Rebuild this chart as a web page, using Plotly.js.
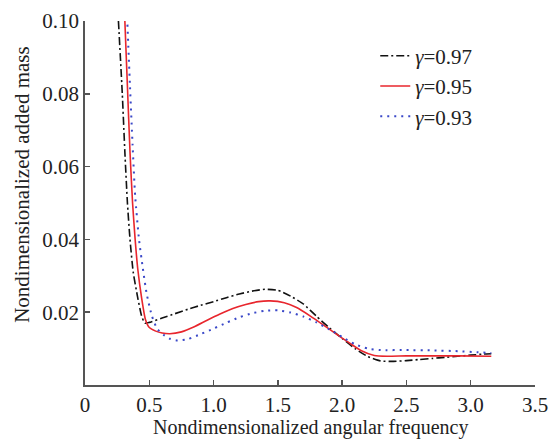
<!DOCTYPE html>
<html>
<head>
<meta charset="utf-8">
<script src="https://cdn.plot.ly/plotly-3.0.1.min.js"></script>
<style>
html,body{margin:0;padding:0;background:#fff;}
</style>
</head>
<body>
<div id="chart"></div>
<script>
// gamma = 0.97
const x97 = [0.26,0.29,0.31,0.33,0.35,0.375,0.41,0.44,0.465,0.50,0.6,0.7,0.8,0.9,1.0,1.1,1.2,1.3,1.4,1.5,1.6,1.7,1.8,1.9,2.0,2.1,2.2,2.3,2.4,2.5,2.6,2.7,2.8,2.9,3.0,3.1,3.16];
const y97 = [0.100,0.080,0.064,0.050,0.040,0.031,0.024,0.019,0.0170,0.0172,0.0184,0.0196,0.0208,0.0219,0.0229,0.0240,0.0250,0.0258,0.0263,0.0260,0.0244,0.0222,0.0189,0.0157,0.0128,0.0100,0.0078,0.0066,0.0065,0.0067,0.0070,0.0073,0.0076,0.0079,0.0082,0.0085,0.0086];
// gamma = 0.95
const x95 = [0.31,0.33,0.35,0.37,0.39,0.41,0.44,0.47,0.50,0.55,0.6,0.66,0.75,0.85,0.95,1.05,1.15,1.25,1.35,1.44,1.55,1.65,1.75,1.85,1.95,2.05,2.15,2.25,2.35,2.5,2.7,2.9,3.16];
const y95 = [0.100,0.082,0.064,0.050,0.040,0.032,0.024,0.018,0.0158,0.0148,0.0143,0.0141,0.0146,0.0160,0.0178,0.0195,0.0210,0.0221,0.0229,0.0231,0.0226,0.0212,0.0190,0.0166,0.0141,0.0117,0.0094,0.0081,0.0079,0.0080,0.0080,0.0080,0.0079];
// gamma = 0.93
const x93 = [0.33,0.35,0.37,0.39,0.42,0.45,0.48,0.52,0.56,0.61,0.66,0.72,0.8,0.9,1.0,1.1,1.2,1.3,1.4,1.5,1.6,1.7,1.8,1.9,2.0,2.1,2.2,2.3,2.5,2.7,2.9,3.05,3.16];
const y93 = [0.099,0.082,0.066,0.052,0.040,0.032,0.025,0.019,0.0155,0.0138,0.0127,0.0122,0.0126,0.0140,0.0155,0.0171,0.0186,0.0197,0.0204,0.0205,0.0199,0.0188,0.0172,0.0153,0.0132,0.0112,0.0100,0.0096,0.0096,0.0095,0.0093,0.0090,0.0088];

const seriesNames = ['<i>γ</i>=0.97','<i>γ</i>=0.95','<i>γ</i>=0.93'];
const xTickVals = [0,0.5,1.0,1.5,2.0,2.5,3.0,3.5];
const xTickText = ['0','0.5','1.0','1.5','2.0','2.5','3.0','3.5'];
const yTickVals = [0.02,0.04,0.06,0.08,0.10];
const yTickText = ['0.02','0.04','0.06','0.08','0.10'];

const FAM = 'serif';
const textColor = '#222222';
const axisColor = '#555555';

const traces = [
  {x:x97, y:y97, name:seriesNames[0], mode:'lines', type:'scatter', line:{color:'#111111', width:1.6, dash:'8px,3px,2px,3px', shape:'spline', smoothing:0.5}},
  {x:x95, y:y95, name:seriesNames[1], mode:'lines', type:'scatter', line:{color:'#e8262d', width:1.6, shape:'spline', smoothing:0.5}},
  {x:x93, y:y93, name:seriesNames[2], mode:'lines', type:'scatter', line:{color:'#3a48c8', width:2, dash:'2px,5px', shape:'spline', smoothing:0.5}}
];

const layout = {
  width:556, height:439,
  margin:{l:85, r:21, t:21, b:54},
  paper_bgcolor:'#ffffff', plot_bgcolor:'#ffffff',
  showlegend:true,
  legend:{x:0.645, y:0.96, xanchor:'left', yanchor:'top', bgcolor:'rgba(0,0,0,0)', font:{family:FAM, size:21, color:textColor}, tracegroupgap:0},
  xaxis:{range:[0,3.5], tickvals:xTickVals, ticktext:xTickText, ticks:'inside', ticklen:5, tickwidth:1.5, tickcolor:axisColor,
         showline:true, linecolor:axisColor, linewidth:1.8, showgrid:false, zeroline:false, tickfont:{family:FAM, size:21, color:textColor}},
  yaxis:{range:[0,0.1], tickvals:yTickVals, ticktext:yTickText, ticks:'inside', ticklen:5, tickwidth:1.5, tickcolor:axisColor,
         showline:true, linecolor:axisColor, linewidth:1.8, showgrid:false, zeroline:false, tickfont:{family:FAM, size:21, color:textColor}},
  annotations:[
    {text:'Nondimensionalized angular frequency', xref:'paper', yref:'paper', x:0.5, y:-0.118, xanchor:'center', yanchor:'middle', showarrow:false, font:{family:FAM, size:20, color:textColor}},
    {text:'Nondimensionalized added mass', xref:'paper', yref:'paper', x:-0.14, y:0.55, xanchor:'center', yanchor:'middle', textangle:-90, showarrow:false, font:{family:FAM, size:21, color:textColor}}
  ]
};

Plotly.newPlot('chart', traces, layout, {displayModeBar:false, staticPlot:true});
</script>
</body>
</html>
